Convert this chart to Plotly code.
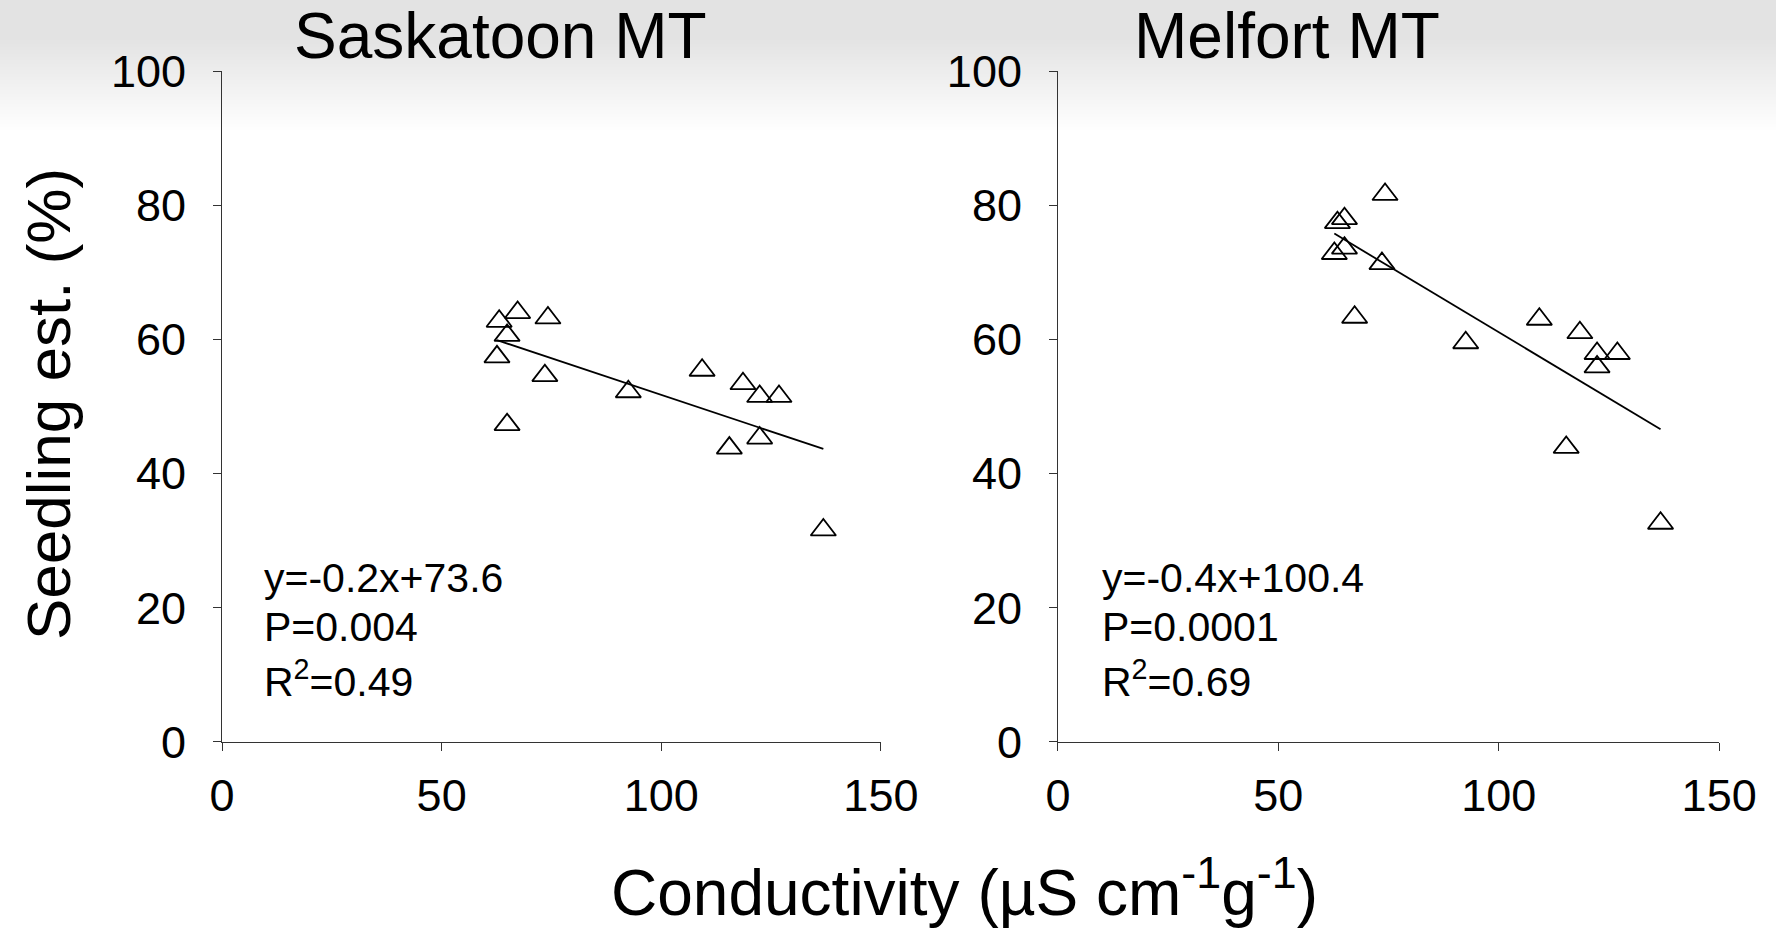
import numpy as np
import plotly.graph_objects as go

# ---- data ----
sask_conductivity = [63.1, 64.9, 67.3, 74.2, 62.6, 73.5, 64.9, 92.5, 109.3, 118.6, 122.4, 126.8, 115.5, 122.4, 136.9]
sask_establishment = [62.7, 60.6, 64.0, 63.2, 57.4, 54.6, 47.3, 52.2, 55.4, 53.4, 51.5, 51.5, 43.8, 45.3, 31.6]
melf_conductivity = [74.2, 63.4, 65.0, 65.0, 62.7, 73.5, 67.3, 92.5, 109.2, 118.4, 122.3, 126.9, 122.3, 115.3, 136.7]
melf_establishment = [81.6, 77.4, 78.0, 73.6, 72.8, 71.3, 63.3, 59.5, 63.0, 61.0, 57.9, 57.9, 55.9, 43.9, 32.6]

panel_titles = ["Saskatoon MT", "Melfort MT"]
sask_stats = ["y=-0.2x+73.6", "P=0.004", "R<sup>2</sup>=0.49"]
melf_stats = ["y=-0.4x+100.4", "P=0.0001", "R<sup>2</sup>=0.69"]
x_title = "Conductivity (µS cm<sup>-1</sup>g<sup>-1</sup>)"
y_title = "Seedling est. (%)"
x_ticks = [0, 50, 100, 150]
y_ticks = [0, 20, 40, 60, 80, 100]

FONT = "Liberation Sans, Arial, sans-serif"

fig = go.Figure()

panels = [
    (sask_conductivity, sask_establishment, "x", "y"),
    (melf_conductivity, melf_establishment, "x2", "y2"),
]
for xs, ys, xa, ya in panels:
    slope, intercept = np.polyfit(xs, ys, 1)
    lx = np.array([min(xs), max(xs)])
    fig.add_trace(go.Scatter(
        x=lx, y=slope * lx + intercept, xaxis=xa, yaxis=ya, mode="lines",
        line=dict(color="black", width=1.8), showlegend=False, hoverinfo="skip"))
    fig.add_trace(go.Scatter(
        x=xs, y=ys, xaxis=xa, yaxis=ya, mode="markers",
        marker=dict(symbol="triangle-up-open", size=22, color="black", line=dict(width=1.8, color="black")),
        showlegend=False, hoverinfo="x+y"))

axis_common = dict(showgrid=False, zeroline=False, showline=True, linecolor="#333333", linewidth=1,
                   ticks="outside", ticklen=8, tickwidth=1, tickcolor="#333333",
                   tickfont=dict(family=FONT, size=45, color="black"), automargin=False)

fig.update_layout(
    width=1776, height=932,
    margin=dict(l=0, r=0, t=0, b=0, autoexpand=False),
    paper_bgcolor="white", plot_bgcolor="rgba(0,0,0,0)",
    font=dict(family=FONT, color="black"),
    xaxis=dict(domain=[0.125, 0.496], range=[0, 150], tickvals=x_ticks, anchor="y", ticklabelstandoff=6, **axis_common),
    yaxis=dict(domain=[0.2039, 0.9238], range=[0, 100], tickvals=y_ticks, anchor="x", ticklabelstandoff=18, **axis_common),
    xaxis2=dict(domain=[0.5957, 0.968], range=[0, 150], tickvals=x_ticks, anchor="y2", ticklabelstandoff=6, **axis_common),
    yaxis2=dict(domain=[0.2039, 0.9238], range=[0, 100], tickvals=y_ticks, anchor="x2", ticklabelstandoff=18, **axis_common),
)

# soft grey band at the top of the slide background
n_bands = 28
for i in range(n_bands):
    depth = 40 + i / (n_bands - 1) * 90
    fig.add_shape(type="rect", xref="paper", yref="paper", x0=0, x1=1, y0=1 - depth / 932, y1=1,
                  fillcolor="rgba(190,186,178,0.016)", line=dict(width=0), layer="below")

# panel titles
fig.add_annotation(text=panel_titles[0], xref="paper", yref="paper", x=500 / 1776, y=1 - 36 / 932,
                   showarrow=False, font=dict(size=64, family=FONT), xanchor="center", yanchor="middle")
fig.add_annotation(text=panel_titles[1], xref="paper", yref="paper", x=1287 / 1776, y=1 - 36 / 932,
                   showarrow=False, font=dict(size=64, family=FONT), xanchor="center", yanchor="middle")

# regression statistics
line_y = [578, 627, 679]
for lines, x_left in ((sask_stats, 262), (melf_stats, 1100)):
    for txt, yy in zip(lines, line_y):
        fig.add_annotation(text=txt, xref="paper", yref="paper", x=x_left / 1776, y=1 - yy / 932,
                           showarrow=False, font=dict(size=41, family=FONT), xanchor="left", yanchor="middle")

# axis titles
fig.add_annotation(text=y_title, xref="paper", yref="paper", x=48 / 1776, y=1 - 404 / 932, textangle=-90,
                   showarrow=False, font=dict(size=62, family=FONT), xanchor="center", yanchor="middle")
fig.add_annotation(text=x_title, xref="paper", yref="paper", x=964 / 1776, y=1 - 888 / 932,
                   showarrow=False, font=dict(size=64, family=FONT), xanchor="center", yanchor="middle")

fig.write_html("out.html")
